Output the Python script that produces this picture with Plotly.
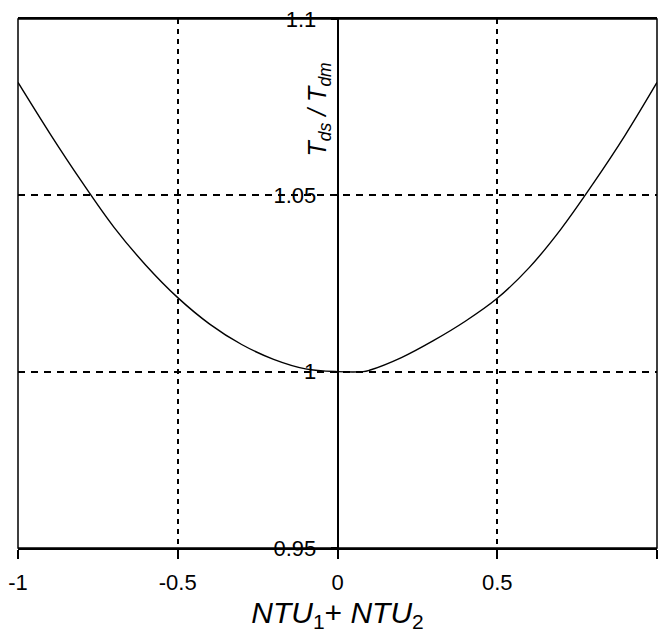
import plotly.graph_objects as go

ntu_sum = [-1.0, -0.9, -0.8, -0.7, -0.6, -0.5, -0.4, -0.3, -0.2, -0.1, 0.0,
           0.08, 0.1, 0.2, 0.3, 0.4, 0.5, 0.6, 0.7, 0.8, 0.9, 1.0]
t_ratio = [1.082, 1.0675, 1.0538, 1.0410, 1.0302, 1.0210, 1.0135, 1.0077, 1.0035, 1.0008, 1.0,
           1.0, 1.0004, 1.0040, 1.0088, 1.0143, 1.0208, 1.0295, 1.0405, 1.0533, 1.0670, 1.082]

x_ticks = [-1, -0.5, 0, 0.5, 1]
x_labels = ["-1", "-0.5", "0", "0.5", "1"]
y_ticks = [0.95, 1.0, 1.05, 1.1]
y_labels = ["0.95", "1", "1.05", "1.1"]

FONT = "Liberation Sans, Arial, sans-serif"

fig = go.Figure()
fig.add_trace(go.Scatter(
    x=ntu_sum, y=t_ratio, mode="lines",
    line=dict(color="black", width=1.4, shape="spline", smoothing=1.0),
    showlegend=False, hoverinfo="skip",
))

fig.update_layout(
    width=659, height=636,
    margin=dict(l=18, r=2, t=19, b=88, autoexpand=False),
    paper_bgcolor="white", plot_bgcolor="white",
    font=dict(family=FONT, color="black", size=22),
    xaxis=dict(
        range=[-1, 1], tickvals=x_ticks, ticktext=x_labels, automargin=False,
        showline=True, mirror=True, linecolor="black", linewidth=1.5,
        ticks="outside", ticklen=9, tickwidth=1.5, tickcolor="black",
        ticklabelstandoff=5,
        showgrid=True, gridcolor="black", gridwidth=1.6, griddash="5px,5px",
        zeroline=False, tickfont=dict(size=22),
        title=dict(text="<i>NTU</i><sub>1</sub>+ <i>NTU</i><sub>2</sub>",
                   font=dict(size=30), standoff=8),
    ),
    yaxis=dict(
        range=[0.95, 1.1], tickvals=y_ticks, ticktext=y_labels, automargin=False,
        anchor="free", position=0.5,
        showline=True, linecolor="black", linewidth=1.5,
        ticks="outside", ticklen=6, tickwidth=1.5, tickcolor="black",
        ticklabelstandoff=10,
        showgrid=True, gridcolor="black", gridwidth=1.6, griddash="7px,6px",
        zeroline=False, tickfont=dict(size=22),
    ),
    shapes=[dict(type="rect", xref="paper", yref="paper", x0=0, x1=1, y0=0, y1=1,
                 line=dict(color="black", width=1.5), fillcolor="rgba(0,0,0,0)",
                 layer="above")],
    annotations=[dict(
        x=0, y=1.0742, xref="x", yref="y",
        text="<i>T</i><sub><i>ds</i></sub><i> / T</i><sub><i>dm</i></sub>",
        textangle=-90, showarrow=False, xanchor="right", yanchor="middle",
        xshift=-1, font=dict(size=25, family=FONT),
    )],
)

fig.write_html(
    "out.html",
    config={"displayModeBar": False},
    post_script="document.body.style.margin='0';document.body.style.overflow='hidden';",
)
